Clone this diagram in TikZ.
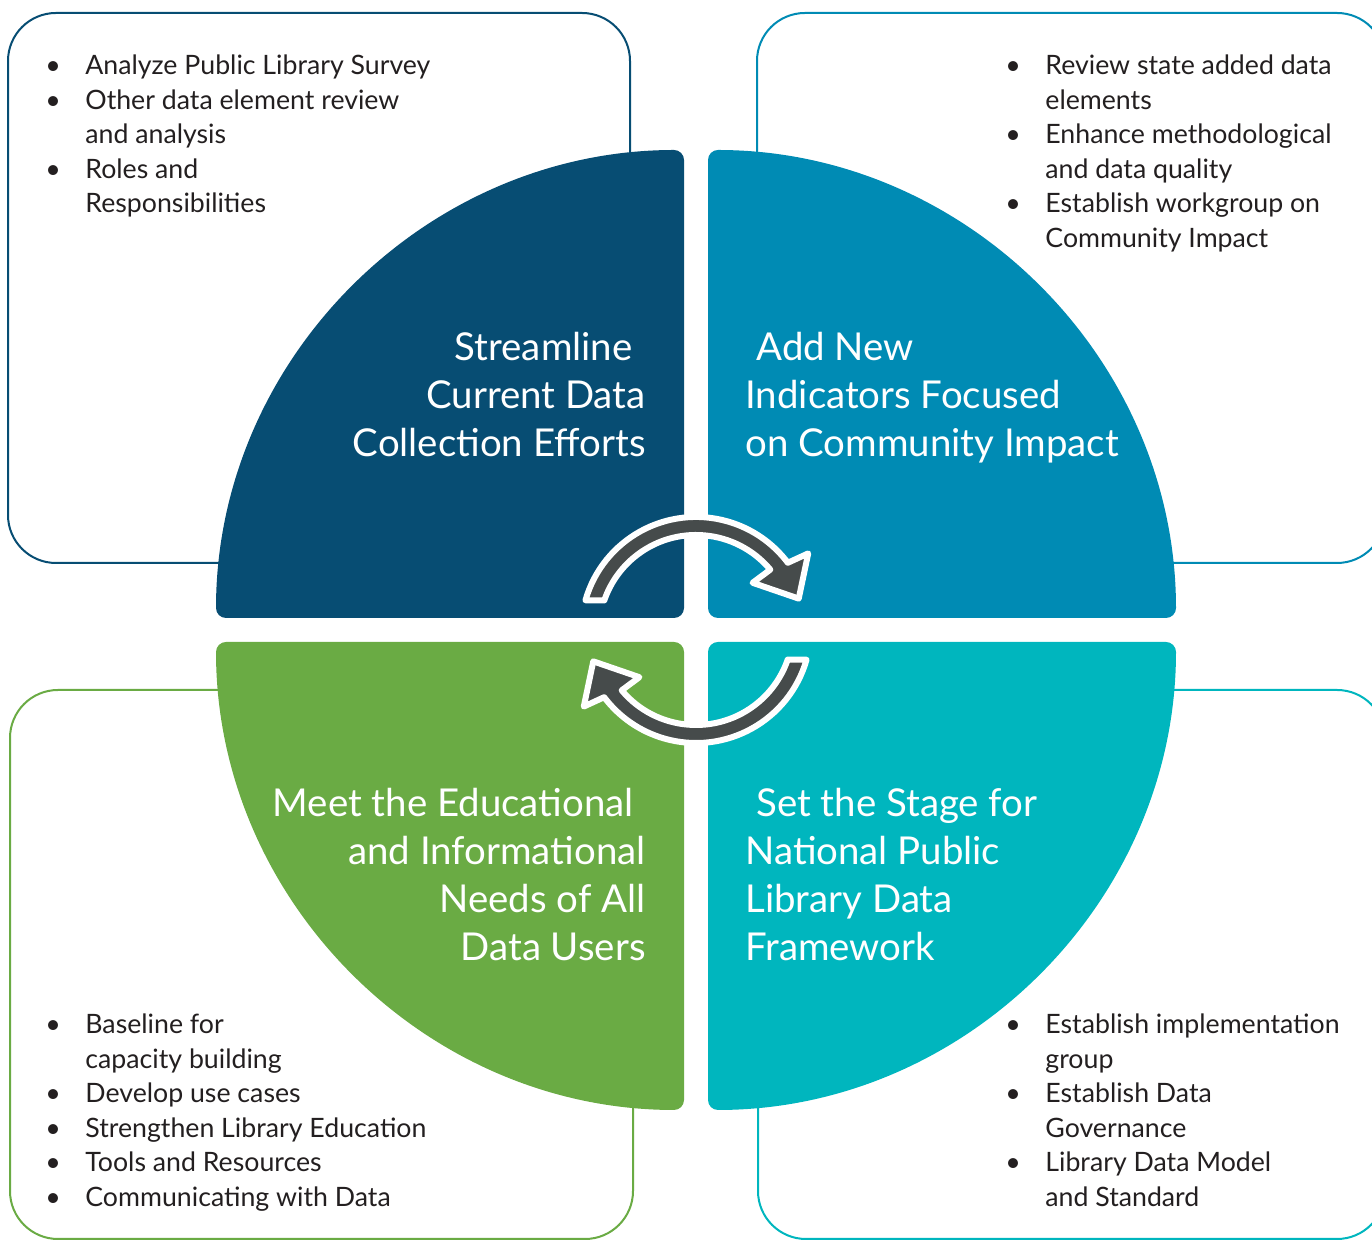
\documentclass[tikz,border=0pt]{standalone}
\usepackage{fontspec}
\setmainfont{Lato}
\definecolor{navy}{RGB}{7,77,115}
\definecolor{ocean}{RGB}{0,139,180}
\definecolor{leaf}{RGB}{106,171,68}
\definecolor{teal}{RGB}{0,182,190}
\definecolor{slate}{RGB}{70,75,75}
\definecolor{ink}{RGB}{35,31,32}
\tikzset{cyclearrow/.pic={
  \filldraw[fill=slate,draw=white,line width=3pt,line join=round]
    (164:115) arc[start angle=164,end angle=37,radius=57.5pt] -- (35:137) -- (18:108) -- (41:75) -- (40:97)
    arc[start angle=40,end angle=161,radius=48.5pt] -- cycle;
}}
\begin{document}
\begin{tikzpicture}[x=0.5pt,y=0.5pt,line join=round,
  box/.style={line width=1pt,rounded corners=24pt},
  quarter/.style={rounded corners=5pt},
  title/.style={text=white,inner sep=0pt,font=\fontsize{19.2}{24}\selectfont},
  items/.style={text=ink,inner sep=0pt,anchor=base west,font=\fontsize{13.35}{17.25}\selectfont}]
\useasboundingbox (0,0) rectangle (1372,1241);
\clip (0,0) rectangle (1372,1241);
% boxes behind
\draw[box,navy] (8,678) rectangle (630,1228);
\draw[box,ocean] (757,678) rectangle (1385,1228);
\draw[box,leaf] (10,2) rectangle (633,551);
\draw[box,teal] (758,2) rectangle (1385,551);
% quarters
\fill[quarter,navy] (684,623) -- (216,623) arc[start angle=180,end angle=90,radius=234pt] -- cycle;
\fill[quarter,ocean] (708,623) -- (708,1091) arc[start angle=90,end angle=0,radius=234pt] -- cycle;
\fill[quarter,leaf] (684,599) -- (684,131) arc[start angle=270,end angle=180,radius=234pt] -- cycle;
\fill[quarter,teal] (708,599) -- (1176,599) arc[start angle=0,end angle=-90,radius=234pt] -- cycle;
% titles
\node[title,anchor=base east] (streamline) at (646,880) {\begin{tabular}[t]{@{}r@{}}Streamline\hspace*{6.5pt}\\Current Data\\Collection Efforts\end{tabular}};
\node[title,anchor=base west] (indicators) at (745,880) {\begin{tabular}[t]{@{}l@{}}\hspace*{5.5pt}Add New\\Indicators Focused\\on Community Impact\end{tabular}};
\node[title,anchor=base east] (needs) at (646,424) {\begin{tabular}[t]{@{}r@{}}Meet the Educational\hspace*{6pt}\\and Informational\\Needs of All\\Data Users\end{tabular}};
\node[title,anchor=base west] (stage) at (745,424) {\begin{tabular}[t]{@{}l@{}}\hspace*{5.5pt}Set the Stage for\\National Public\\Library Data\\Framework\end{tabular}};
% bullet lists
\node[items] (listA) at (45,1166) {\begin{tabular}[t]{@{}p{20pt}@{}l@{}}
\textbullet & Analyze Public Library Survey\\
\textbullet & Other data element review\\
 & and analysis\\
\textbullet & Roles and\\
 & Responsibilities\end{tabular}};
\node[items] (listB) at (1005,1166) {\begin{tabular}[t]{@{}p{20pt}@{}l@{}}
\textbullet & Review state added data\\
 & elements\\
\textbullet & Enhance methodological\\
 & and data quality\\
\textbullet & Establish workgroup on\\
 & Community Impact\end{tabular}};
\node[items] (listC) at (45,207) {\begin{tabular}[t]{@{}p{20pt}@{}l@{}}
\textbullet & Baseline for\\
 & capacity building\\
\textbullet & Develop use cases\\
\textbullet & Strengthen Library Education\\
\textbullet & Tools and Resources\\
\textbullet & Communicating with Data\end{tabular}};
\node[items] (listD) at (1005,207) {\begin{tabular}[t]{@{}p{20pt}@{}l@{}}
\textbullet & Establish implementation\\
 & group\\
\textbullet & Establish Data\\
 & Governance\\
\textbullet & Library Data Model\\
 & and Standard\end{tabular}};
% cycle arrows
\pic at (696,609) {cyclearrow};
\pic[rotate=180] at (696,613) {cyclearrow};
\end{tikzpicture}
\end{document}
